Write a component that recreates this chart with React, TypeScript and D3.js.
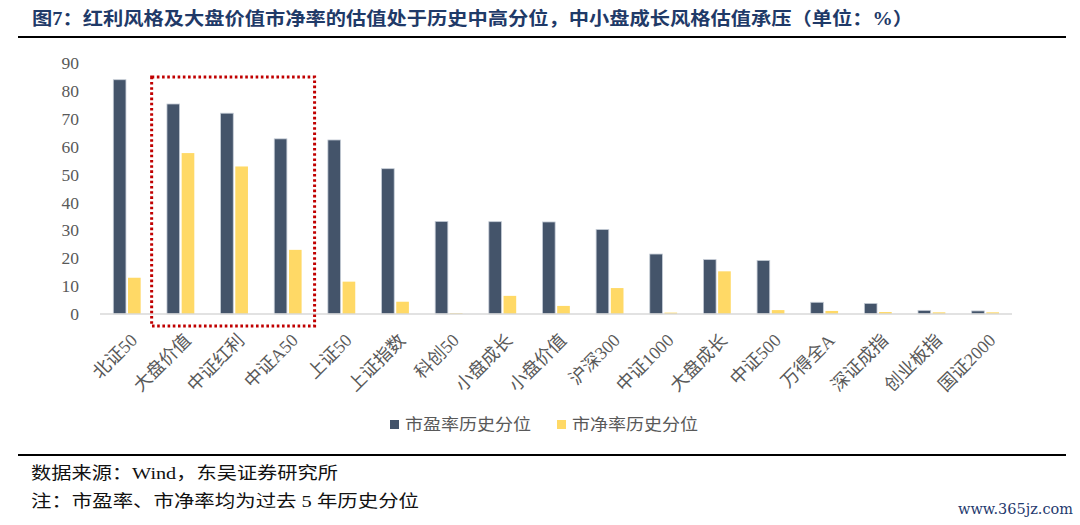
import React from "react";
import * as d3 from "d3";

const categories = ["北证50", "大盘价值", "中证红利", "中证A50", "上证50", "上证指数", "科创50", "小盘成长", "小盘价值", "沪深300", "中证1000", "大盘成长", "中证500", "万得全A", "深证成指", "创业板指", "国证2000"];
const peValues = [84, 75.3, 72.0, 62.8, 62.4, 52.1, 33.2, 33.1, 33.0, 30.3, 21.5, 19.5, 19.2, 4.2, 3.8, 1.3, 1.1];
const pbValues = [13.0, 57.7, 52.9, 23.0, 11.6, 4.4, 0.3, 6.5, 2.9, 9.3, 0.5, 15.3, 1.4, 1.1, 0.7, 0.6, 0.6];
const yTicks = [0, 10, 20, 30, 40, 50, 60, 70, 80, 90];
const seriesNames = ["市盈率历史分位", "市净率历史分位"];
const highlight = ["大盘价值", "中证A50"];
const highlightTop = 85;

const title = "图7：红利风格及大盘价值市净率的估值处于历史中高分位，中小盘成长风格估值承压（单位：%）";
const source = "数据来源：Wind，东吴证券研究所";
const note = "注：市盈率、市净率均为过去 5 年历史分位";
const watermark = "www.365jz.com";

const DARK = "#44546A";
const YELLOW = "#FFD966";
const GREY = "#595959";
const FONT = "'Liberation Serif', 'Noto Sans CJK SC', serif";

export default function App() {
  const x = d3.scaleBand<string>().domain(categories).range([100, 1012]).paddingInner(0).paddingOuter(0);
  const bw = x.bandwidth();
  const x1 = d3.scaleBand<string>().domain(["pe", "pb"]).range([bw * 0.248, bw * 0.758]).paddingInner(0.14);
  const y = d3.scaleLinear().domain([0, 90]).range([314, 63]);

  const boxX0 = (x(highlight[0]) as number) - 2;
  const boxX1 = (x(highlight[1]) as number) + bw;
  const boxY0 = y(highlightTop);
  const boxY1 = y(0) + 12;

  return (
    <svg width={1080} height={525} style={{ position: "absolute", left: 0, top: 0, background: "#fff" }} fontFamily={FONT}>
      <rect width={1080} height={525} fill="#fff" />
      <text x={32} y={25} fontSize={18} fontWeight="bold" fill="#1F3A68" textLength={881} lengthAdjust="spacingAndGlyphs">{title}</text>
      <line x1={18} x2={1066} y1={37} y2={37} stroke="#000" strokeWidth={2} />

      {yTicks.map((t) => (
        <text key={t} x={79} y={y(t)} dy="0.35em" textAnchor="end" fontSize={17.5} fill={GREY}>{t}</text>
      ))}

      {categories.map((c, i) => {
        const bx = x(c) as number;
        return (
          <g key={c}>
            <rect x={bx + (x1("pe") as number)} y={y(peValues[i])} width={x1.bandwidth()} height={y(0) - y(peValues[i])} fill={DARK} stroke="#c5ccd6" strokeWidth={0.8} />
            <rect x={bx + (x1("pb") as number)} y={y(pbValues[i])} width={x1.bandwidth()} height={y(0) - y(pbValues[i])} fill={YELLOW} />
          </g>
        );
      })}

      <line x1={100} x2={1012} y1={y(0)} y2={y(0)} stroke="#D9D9D9" strokeWidth={1.5} />

      {categories.map((c) => {
        const cx = (x(c) as number) + bw / 2;
        return (
          <text key={c} transform={`translate(${cx + 7},${337}) rotate(-45)`} textAnchor="end" fontSize={18} fill={GREY} dy="0.35em">{c}</text>
        );
      })}

      <rect x={boxX0} y={boxY0} width={boxX1 - boxX0} height={boxY1 - boxY0} fill="none" stroke="#C00000" strokeWidth={3} strokeDasharray="2.6 2.6" />

      <rect x={390} y={420} width={9} height={9} fill={DARK} />
      <text x={405} y={424.5} dy="0.35em" fontSize={16} fill={GREY} textLength={126} lengthAdjust="spacingAndGlyphs">{seriesNames[0]}</text>
      <rect x={557} y={420} width={9} height={9} fill={YELLOW} />
      <text x={572} y={424.5} dy="0.35em" fontSize={16} fill={GREY} textLength={126} lengthAdjust="spacingAndGlyphs">{seriesNames[1]}</text>

      <line x1={18} x2={1066} y1={455} y2={455} stroke="#000" strokeWidth={2} />
      <text x={31} y={479} fontSize={17} fill="#111" textLength={307} lengthAdjust="spacingAndGlyphs">{source}</text>
      <text x={31} y={507} fontSize={17} fill="#111" textLength={388} lengthAdjust="spacingAndGlyphs">{note}</text>
      <text x={958} y={514} fontSize={15} fill="#1F3A6E" fontFamily="'DejaVu Serif', serif" textLength={115} lengthAdjust="spacingAndGlyphs">{watermark}</text>
    </svg>
  );
}
